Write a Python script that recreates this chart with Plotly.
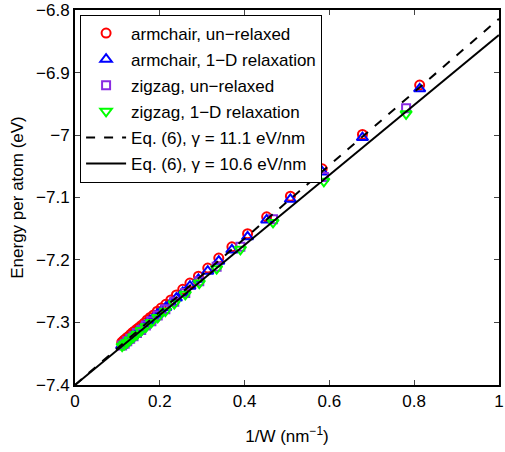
import plotly.graph_objects as go

# ---- data ----
arm_x = [0.813, 0.678, 0.583, 0.508, 0.452, 0.407, 0.370, 0.339, 0.313, 0.291,
         0.271, 0.254, 0.239, 0.226, 0.214, 0.203, 0.194, 0.185, 0.177, 0.170,
         0.163, 0.156, 0.151, 0.145, 0.140, 0.136, 0.131, 0.127, 0.123, 0.120,
         0.116, 0.113, 0.110]
arm_unrelaxed = [-6.920, -6.999, -7.054, -7.098, -7.131, -7.158, -7.179, -7.197,
                 -7.213, -7.226, -7.237, -7.247, -7.256, -7.264, -7.271, -7.277,
                 -7.282, -7.288, -7.292, -7.296, -7.301, -7.305, -7.308, -7.311,
                 -7.314, -7.316, -7.319, -7.322, -7.324, -7.326, -7.328, -7.330,
                 -7.332]
arm_relaxed = [-6.926, -7.004, -7.059, -7.103, -7.136, -7.163, -7.184, -7.202,
               -7.218, -7.231, -7.242, -7.252, -7.261, -7.269, -7.276, -7.282,
               -7.287, -7.293, -7.297, -7.301, -7.306, -7.310, -7.313, -7.316,
               -7.319, -7.321, -7.324, -7.327, -7.329, -7.331, -7.333, -7.335,
               -7.337]
zig_x = [0.781, 0.587, 0.467, 0.390, 0.334, 0.293, 0.260, 0.234, 0.213, 0.195,
         0.180, 0.167, 0.156, 0.146, 0.138, 0.130, 0.123, 0.117, 0.111]
zig_unrelaxed = [-6.957, -7.067, -7.135, -7.179, -7.211, -7.234, -7.253, -7.267,
                 -7.279, -7.289, -7.298, -7.305, -7.312, -7.317, -7.322, -7.326,
                 -7.330, -7.334, -7.337]
zig_relaxed = [-6.966, -7.074, -7.140, -7.183, -7.214, -7.237, -7.255, -7.270,
               -7.282, -7.292, -7.300, -7.307, -7.313, -7.319, -7.323, -7.328,
               -7.332, -7.335, -7.338]
line_x = [0, 1]
fit_111 = [-7.400, -6.814]
fit_106 = [-7.400, -6.840]

x_ticks = [0, 0.2, 0.4, 0.6, 0.8, 1]
x_labels = ["0", "0.2", "0.4", "0.6", "0.8", "1"]
y_ticks = [-7.4, -7.3, -7.2, -7.1, -7.0, -6.9, -6.8]
y_labels = ["\u22127.4", "\u22127.3", "\u22127.2", "\u22127.1", "\u22127", "\u22126.9", "\u22126.8"]

FONT = "Liberation Sans, Arial, Helvetica, sans-serif"
FS = 17

fig = go.Figure()
fig.add_trace(go.Scatter(x=arm_x, y=arm_unrelaxed, mode="markers",
                         name="armchair, un\u2212relaxed", legendgroup="a",
                         marker=dict(symbol="circle-open", size=9, color="#ff0000",
                                     line=dict(width=2, color="#ff0000"))))
fig.add_trace(go.Scatter(x=arm_x, y=arm_relaxed, mode="markers",
                         name="armchair, 1\u2212D relaxation", legendgroup="b",
                         marker=dict(symbol="triangle-up-open", size=10, color="#0000ff",
                                     line=dict(width=2, color="#0000ff"))))
fig.add_trace(go.Scatter(x=zig_x, y=zig_unrelaxed, mode="markers",
                         name="zigzag, un\u2212relaxed", legendgroup="c",
                         marker=dict(symbol="square-open", size=8, color="#8a2be2",
                                     line=dict(width=2, color="#8a2be2"))))
fig.add_trace(go.Scatter(x=zig_x, y=zig_relaxed, mode="markers",
                         name="zigzag, 1\u2212D relaxation", legendgroup="d",
                         marker=dict(symbol="triangle-down-open", size=10, color="#00ff00",
                                     line=dict(width=2, color="#00ff00"))))
fig.add_trace(go.Scatter(x=line_x, y=fit_111, mode="lines",
                         name="Eq. (6), \u03b3 = 11.1 eV/nm", legendgroup="e",
                         line=dict(color="black", width=2, dash="dash")))
fig.add_trace(go.Scatter(x=line_x, y=fit_106, mode="lines",
                         name="Eq. (6), \u03b3 = 10.6 eV/nm", legendgroup="f",
                         line=dict(color="black", width=2)))

axis_common = dict(showgrid=False, zeroline=False, showline=True, linecolor="black",
                   linewidth=2, mirror="ticks", ticks="inside", ticklen=5,
                   tickcolor="#444", tickwidth=1, automargin=False,
                   ticklabeloverflow="allow",
                   tickfont=dict(family=FONT, size=FS, color="black"))

fig.update_layout(
    width=505, height=452,
    margin=dict(l=75, r=6, t=10, b=67),
    paper_bgcolor="white", plot_bgcolor="white",
    font=dict(family=FONT, size=FS, color="black"),
    xaxis=dict(range=[-0.0002, 1.0002], tickvals=x_ticks, ticktext=x_labels,
               title=dict(text="1/W (nm<sup>\u22121</sup>)", standoff=20,
                          font=dict(family=FONT, size=FS)),
               **axis_common),
    yaxis=dict(range=[-7.4002, -6.7998], tickvals=y_ticks, ticktext=y_labels,
               title=dict(text="Energy per atom (eV)", standoff=8,
                          font=dict(family=FONT, size=FS)),
               **axis_common),
    legend=dict(x=0.012, y=0.988, xanchor="left", yanchor="top",
                bgcolor="white", bordercolor="black", borderwidth=1,
                font=dict(family=FONT, size=FS), itemwidth=40,
                tracegroupgap=1),
    showlegend=True,
)

fig.write_html("out.html",
               config={"displayModeBar": False},
               post_script="document.body.style.margin='0';"
                           "document.body.style.overflow='hidden';")
